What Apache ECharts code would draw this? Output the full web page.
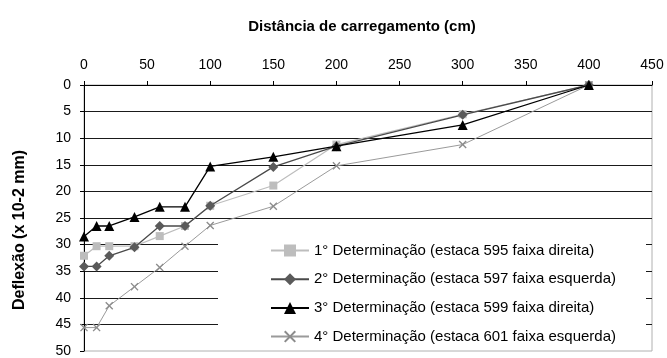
<!DOCTYPE html>
<html>
<head>
<meta charset="utf-8">
<script src="https://cdn.jsdelivr.net/npm/echarts@6/dist/echarts.min.js"></script>
<style>html,body{margin:0;padding:0;background:#fff}#c{width:667px;height:358px}</style>
</head>
<body>
<div id="c"></div>
<script>
// Data
const seriesNames = [
  '1° Determinação (estaca 595 faixa direita)',
  '2° Determinação (estaca 597 faixa esquerda)',
  '3° Determinação (estaca 599 faixa direita)',
  '4° Determinação (estaca 601 faixa esquerda)'
];
const distances = [0, 10, 20, 40, 60, 80, 100, 150, 200, 300, 400];
const det1 = [32.1, 30.3, 30.3, 30.3, 28.4, 26.5, 22.7, 18.9, 11.2, 5.5, 0];
const det2 = [34.1, 34.1, 32.1, 30.5, 26.5, 26.5, 22.7, 15.4, 11.5, 5.6, 0];
const det3 = [28.5, 26.5, 26.5, 24.8, 22.9, 22.9, 15.3, 13.5, 11.5, 7.5, 0];
const det4 = [45.6, 45.6, 41.5, 37.9, 34.3, 30.3, 26.4, 22.8, 15.2, 11.2, 0];
const xTitle = 'Distância de carregamento (cm)';
const yTitle = 'Deflexão (x 10-2 mm)';

const FONT = "Arial, 'Liberation Sans', sans-serif";
const pairs = (ys) => distances.map((d, i) => [d, ys[i]]);
const xMark = 'path://M0,1.2L1.2,0L5,3.8L8.8,0L10,1.2L6.2,5L10,8.8L8.8,10L5,6.2L1.2,10L0,8.8L3.8,5Z';

const chart = echarts.init(document.getElementById('c'), null, {renderer: 'canvas'});
chart.setOption({
  animation: false,
  backgroundColor: '#fff',
  textStyle: {fontFamily: FONT, color: '#000'},
  grid: {left: 84, top: 85, right: 15, bottom: 6, show: true, borderColor: '#b0b0b0', borderWidth: 1, backgroundColor: 'transparent'},
  xAxis: {
    type: 'value', position: 'top', min: 0, max: 450, interval: 50,
    name: xTitle, nameLocation: 'middle', nameGap: 51,
    nameTextStyle: {fontFamily: FONT, fontSize: 15, fontWeight: 'bold', color: '#000', padding: [0, 12, 0, 0]},
    axisLine: {lineStyle: {color: '#000', width: 1}},
    axisTick: {show: true, inside: false, length: 4, lineStyle: {color: '#000'}},
    axisLabel: {fontFamily: FONT, fontSize: 14, color: '#000', margin: 13},
    splitLine: {show: false}
  },
  yAxis: {
    type: 'value', inverse: true, min: 0, max: 50, interval: 5,
    name: yTitle, nameLocation: 'middle', nameGap: 56, nameRotate: 90,
    nameTextStyle: {fontFamily: FONT, fontSize: 16, fontWeight: 'bold', color: '#000', padding: [0, 24, 0, 0]},
    axisLine: {onZero: false, lineStyle: {color: '#000', width: 1}},
    axisTick: {show: true, inside: false, length: 4, lineStyle: {color: '#000'}},
    axisLabel: {fontFamily: FONT, fontSize: 14, color: '#000', margin: 13},
    splitLine: {show: true, showMinLine: false, showMaxLine: false, lineStyle: {color: '#1a1a1a', width: 1}}
  },
  legend: {
    orient: 'vertical', left: 218, top: 230,
    padding: [13, 30, 6, 52], itemGap: 13.7, itemWidth: 38, itemHeight: 15,
    backgroundColor: '#fff', borderWidth: 0,
    textStyle: {fontFamily: FONT, fontSize: 15, color: '#000'},
    data: seriesNames
  },
  series: [
    {name: seriesNames[0], type: 'line', data: pairs(det1), symbol: 'rect', symbolSize: 8,
     itemStyle: {color: '#bdbdbd'}, lineStyle: {color: '#bdbdbd', width: 1.2}, z: 2},
    {name: seriesNames[1], type: 'line', data: pairs(det2), symbol: 'diamond', symbolSize: 10,
     itemStyle: {color: '#5a5a5a'}, lineStyle: {color: '#4a4a4a', width: 1.3}, z: 3},
    {name: seriesNames[2], type: 'line', data: pairs(det3), symbol: 'triangle', symbolSize: 10,
     itemStyle: {color: '#000'}, lineStyle: {color: '#000', width: 1.3}, z: 4},
    {name: seriesNames[3], type: 'line', data: pairs(det4), symbol: xMark, symbolSize: 8,
     itemStyle: {color: '#8c8c8c'}, lineStyle: {color: '#9a9a9a', width: 1}, z: 2}
  ]
});
</script>
</body>
</html>
